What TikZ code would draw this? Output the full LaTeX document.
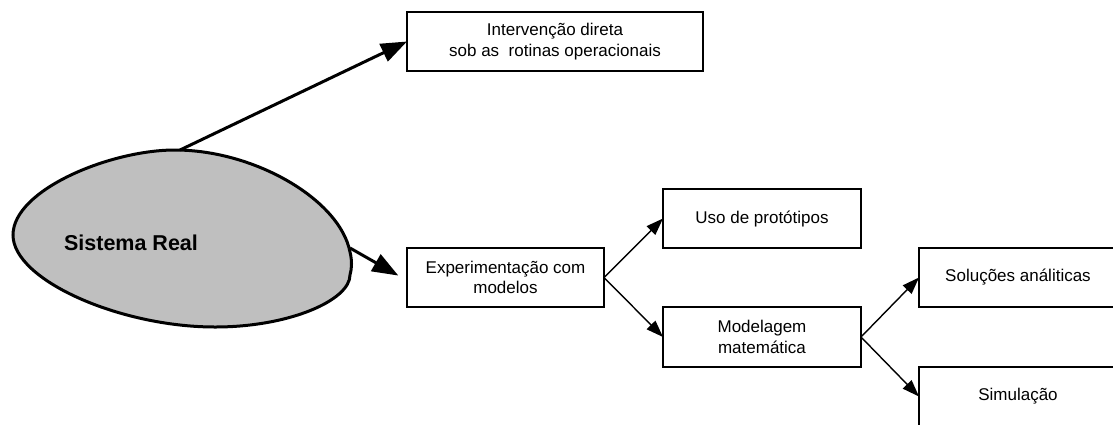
\documentclass[tikz,border=0pt]{standalone}
\usepackage{fontspec}
\setmainfont{Liberation Sans}
\usetikzlibrary{arrows.meta}

\tikzset{
    caixa/.style={draw, line width=1.3pt, inner sep=0pt, outer sep=0pt,
        minimum height=59pt, align=center,
        font=\fontsize{17}{20.5}\selectfont},
    seta grossa/.style={line width=3pt, -{Triangle[length=26pt, width=19pt]}},
    seta fina/.style={line width=1.4pt, -{Triangle[length=17pt, width=12pt]}}
}

\begin{document}
\begin{tikzpicture}[x=1pt, y=-1pt]
        \useasboundingbox (0,0) rectangle (1113,424);
        \clip (0,0) rectangle (1113,424);

        % Sistema real
        \draw[line width=3pt, fill=black!25] (13,235)
            .. controls (13,190) and (110,150) .. (175,150)
            .. controls (255,150) and (340,200) .. (350,252)
            .. controls (352,260) and (352,268) .. (350,275)
            .. controls (350,300) and (290,327) .. (215,327)
            .. controls (120,327) and (13,280) .. cycle;
        \node[font=\fontsize{21.5}{24}\selectfont\bfseries] (real) at (131,243) {Sistema Real};
        \coordinate (real-topo) at (180,150);
        \coordinate (real-dir) at (350,248);

        % Caixas
        \node[caixa, minimum width=296pt] (interv) at (555,41.5) {Intervenção direta\\sob as \ rotinas operacionais};
        \node[caixa, minimum width=197pt] (exper) at (505.5,277.5) {Experimentação com\\modelos};
        \node[caixa, minimum width=198pt] (proto) at (762,218.5) {Uso de protótipos};
        \node[caixa, minimum width=198pt, minimum height=60pt] (model) at (762,337) {Modelagem\\matemática};
        \node[caixa, minimum width=198pt] (analit) at (1018,277.5) {Soluções análiticas};
        \node[caixa, minimum width=198pt] (simul) at (1018,396.5) {Simulação};

        % Setas
        \draw[seta grossa] (real-topo) -- (interv.west);
        \draw[seta grossa, shorten >=10pt] (real-dir) -- ([yshift=-3pt]exper.west);
        \draw[seta fina] (exper.east) -- (proto.west);
        \draw[seta fina] (exper.east) -- (model.west);
        \draw[seta fina] (model.east) -- (analit.west);
        \draw[seta fina] (model.east) -- (simul.west);
    \end{tikzpicture}
\end{document}
